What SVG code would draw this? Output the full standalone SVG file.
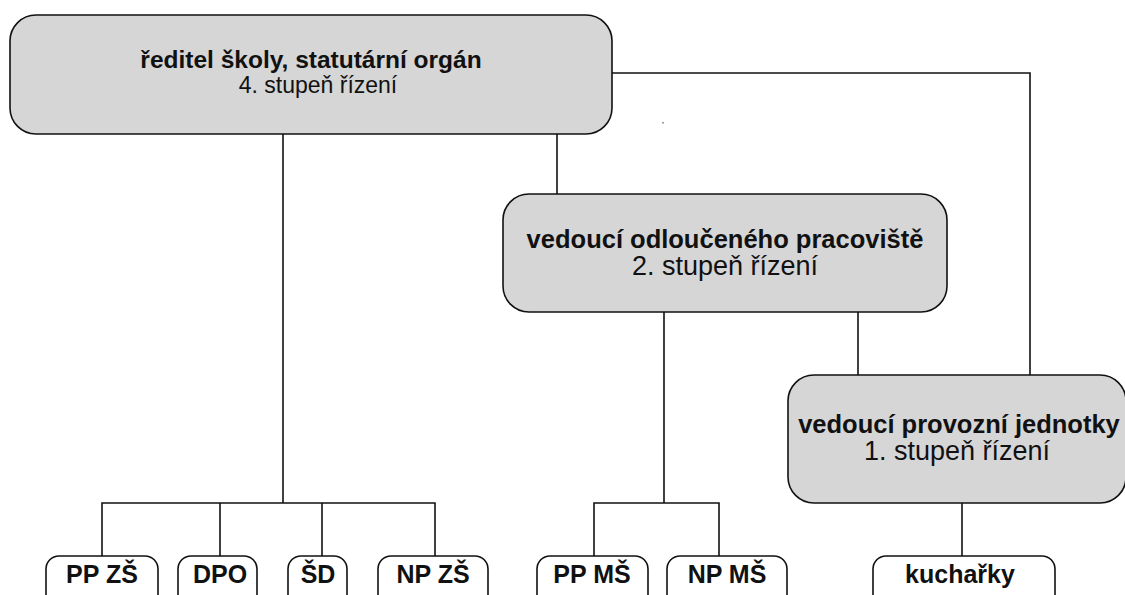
<svg xmlns="http://www.w3.org/2000/svg" width="1125" height="595" viewBox="0 0 1125 595">
<style>
.box{fill:#d6d6d6;stroke:#111;stroke-width:1.6}
.leaf{fill:#fff;stroke:#111;stroke-width:1.6}
.t{font-family:"Liberation Sans",Arial,sans-serif;fill:#111;text-anchor:middle}
.b{font-weight:bold}
.s1{font-size:24.5px}
.s1r{font-size:23px}
.s2{font-size:25.5px}
.s2r{font-size:27px}
.lf{font-size:25px;font-weight:bold}
.c{fill:none;stroke:#111;stroke-width:1.6}
</style>
<rect width="1125" height="595" fill="#fff"/>
<g id="connectors">
<path class="c" d="M283 134V503M102 556V503H435V556M220 503V556M322 503V556"/>
<path class="c" d="M612 73H1030V375"/>
<path class="c" d="M557 134V194"/>
<path class="c" d="M664 312V503M594 556V503H719V556"/>
<path class="c" d="M858 312V375"/>
<path class="c" d="M962 503V556"/>
</g>
<rect x="662" y="122" width="2" height="1.5" fill="#999"/>
<g id="n-reditel">
<rect class="box" x="10" y="15" width="602" height="119" rx="26"/>
<text class="t b s1" x="311" y="68">ředitel školy, statutární orgán</text>
<text class="t s1r" x="318" y="93">4. stupeň řízení</text>
</g>
<g id="n-vedouci-odl">
<rect class="box" x="503" y="194" width="444" height="118" rx="26"/>
<text class="t b s2" x="725" y="248">vedoucí odloučeného pracoviště</text>
<text class="t s2r" x="725" y="275">2. stupeň řízení</text>
</g>
<g id="n-vedouci-prov">
<rect class="box" x="788" y="375" width="338" height="128" rx="26"/>
<text class="t b s2" x="959" y="433">vedoucí provozní jednotky</text>
<text class="t s2r" x="957" y="460">1. stupeň řízení</text>
</g>
<g id="n-ppzs"><rect class="leaf" x="46" y="556" width="112" height="55" rx="13"/><text class="t lf" x="102" y="583">PP ZŠ</text></g>
<g id="n-dpo"><rect class="leaf" x="178" y="556" width="79" height="55" rx="13"/><text class="t lf" x="220" y="583">DPO</text></g>
<g id="n-sd"><rect class="leaf" x="288" y="556" width="59" height="55" rx="13"/><text class="t lf" x="318" y="583">ŠD</text></g>
<g id="n-npzs"><rect class="leaf" x="378" y="556" width="110" height="55" rx="13"/><text class="t lf" x="433" y="583">NP ZŠ</text></g>
<g id="n-ppms"><rect class="leaf" x="537" y="556" width="111" height="55" rx="13"/><text class="t lf" x="592" y="583">PP MŠ</text></g>
<g id="n-npms"><rect class="leaf" x="667" y="556" width="120" height="55" rx="13"/><text class="t lf" x="727" y="583">NP MŠ</text></g>
<g id="n-kucharky"><rect class="leaf" x="873" y="556" width="182" height="55" rx="13"/><text class="t lf" x="960" y="583">kuchařky</text></g>
</svg>
